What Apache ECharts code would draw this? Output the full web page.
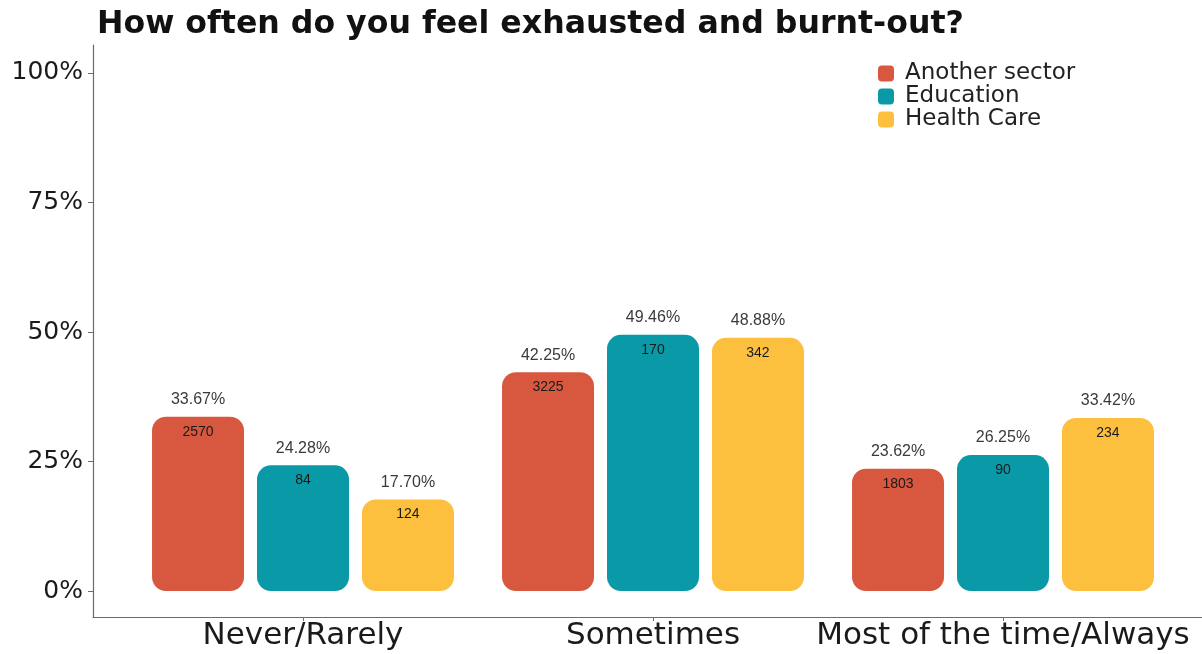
<!DOCTYPE html>
<html>
<head>
<meta charset="utf-8">
<title>How often do you feel exhausted and burnt-out?</title>
<script src="https://cdn.jsdelivr.net/npm/echarts@6/dist/echarts.min.js"></script>
<style>
  html, body { margin: 0; padding: 0; background: #ffffff; overflow: hidden; }
  #chart { width: 1202px; height: 654px; }
</style>
</head>
<body>
<div id="chart"></div>
<script>
// Answer categories along the x axis (placed at 1, 2, 3 on a value scale)
const categories = ['Never/Rarely', 'Sometimes', 'Most of the time/Always'];
const sectors = ['Another sector', 'Education', 'Health Care'];
const sectorColors = ['#D8573F', '#0A9AA7', '#FCBF3E'];

// Share of respondents (%) per category
const anotherSectorPct = [33.67, 42.25, 23.62];
const educationPct = [24.28, 49.46, 26.25];
const healthCarePct = [17.70, 48.88, 33.42];

// Respondent counts per category
const anotherSectorN = [2570, 3225, 1803];
const educationN = [84, 170, 90];
const healthCareN = [124, 342, 234];

const yTicks = [0, 25, 50, 75, 100];
const xTicks = [1, 2, 3];

const pctBySector = [anotherSectorPct, educationPct, healthCarePct];
const nBySector = [anotherSectorN, educationN, healthCareN];

const chart = echarts.init(document.getElementById('chart'), null, { renderer: 'canvas' });

// One label per bar: percentage above the bar, count just inside its top
const series = sectors.map((name, s) => ({
  name: name,
  type: 'bar',
  barWidth: 92,
  barGap: '14.1%',
  itemStyle: { color: sectorColors[s], borderRadius: 14 },
  data: pctBySector[s].map((v, i) => ({ value: [xTicks[i], v], count: nBySector[s][i] })),
  label: {
    show: true,
    position: 'top',
    distance: -30,
    formatter: p => '{pct|' + p.value[1].toFixed(2) + '%}\n{cnt|' + p.data.count + '}',
    rich: {
      pct: { fontFamily: 'Liberation Sans', fontSize: 16, color: '#3a3a3a', lineHeight: 34, align: 'center' },
      cnt: { fontFamily: 'Liberation Sans', fontSize: 14, color: '#1a1a1a', lineHeight: 30, align: 'center' }
    }
  },
  emphasis: { disabled: true }
}));

chart.setOption({
  animation: false,
  backgroundColor: '#ffffff',
  title: {
    text: 'How often do you feel exhausted and burnt-out?',
    left: 92,
    top: 4,
    textStyle: { fontFamily: 'DejaVu Sans', fontWeight: 'bold', fontSize: 31.6, color: '#111111' }
  },
  legend: {
    orient: 'vertical',
    left: 873,
    top: 57,
    itemWidth: 16,
    itemHeight: 16,
    itemGap: 0,
    icon: 'roundRect',
    data: sectors,
    textStyle: { fontFamily: 'DejaVu Sans', fontSize: 23, color: '#222222', lineHeight: 22, padding: [0, 0, 0, 6] }
  },
  // the plotting panel runs a little past the right edge of the canvas
  grid: { left: 93, width: 1120, top: 45, bottom: 37, containLabel: false, outerBoundsMode: 'none' },
  xAxis: {
    type: 'value',
    min: 0.4,
    max: 3.6,
    splitLine: { show: false },
    axisLine: { show: true, onZero: false, lineStyle: { color: '#6b6b6b', width: 1.2 } },
    axisTick: { show: true, customValues: xTicks, length: 4, lineStyle: { color: '#6b6b6b' } },
    axisLabel: {
      customValues: xTicks,
      formatter: v => categories[Math.round(v) - 1] || '',
      fontFamily: 'DejaVu Sans',
      fontSize: 31,
      color: '#1a1a1a',
      margin: 3
    }
  },
  yAxis: {
    type: 'value',
    min: -5,
    max: 105.4,
    splitLine: { show: false },
    axisLine: { show: true, onZero: false, lineStyle: { color: '#6b6b6b', width: 1.2 } },
    axisTick: { show: true, customValues: yTicks, length: 5, lineStyle: { color: '#6b6b6b' } },
    axisLabel: {
      customValues: yTicks,
      formatter: v => v + '%',
      fontFamily: 'DejaVu Sans',
      fontSize: 25,
      color: '#1a1a1a',
      margin: 10
    }
  },
  series: series
});
</script>
</body>
</html>
